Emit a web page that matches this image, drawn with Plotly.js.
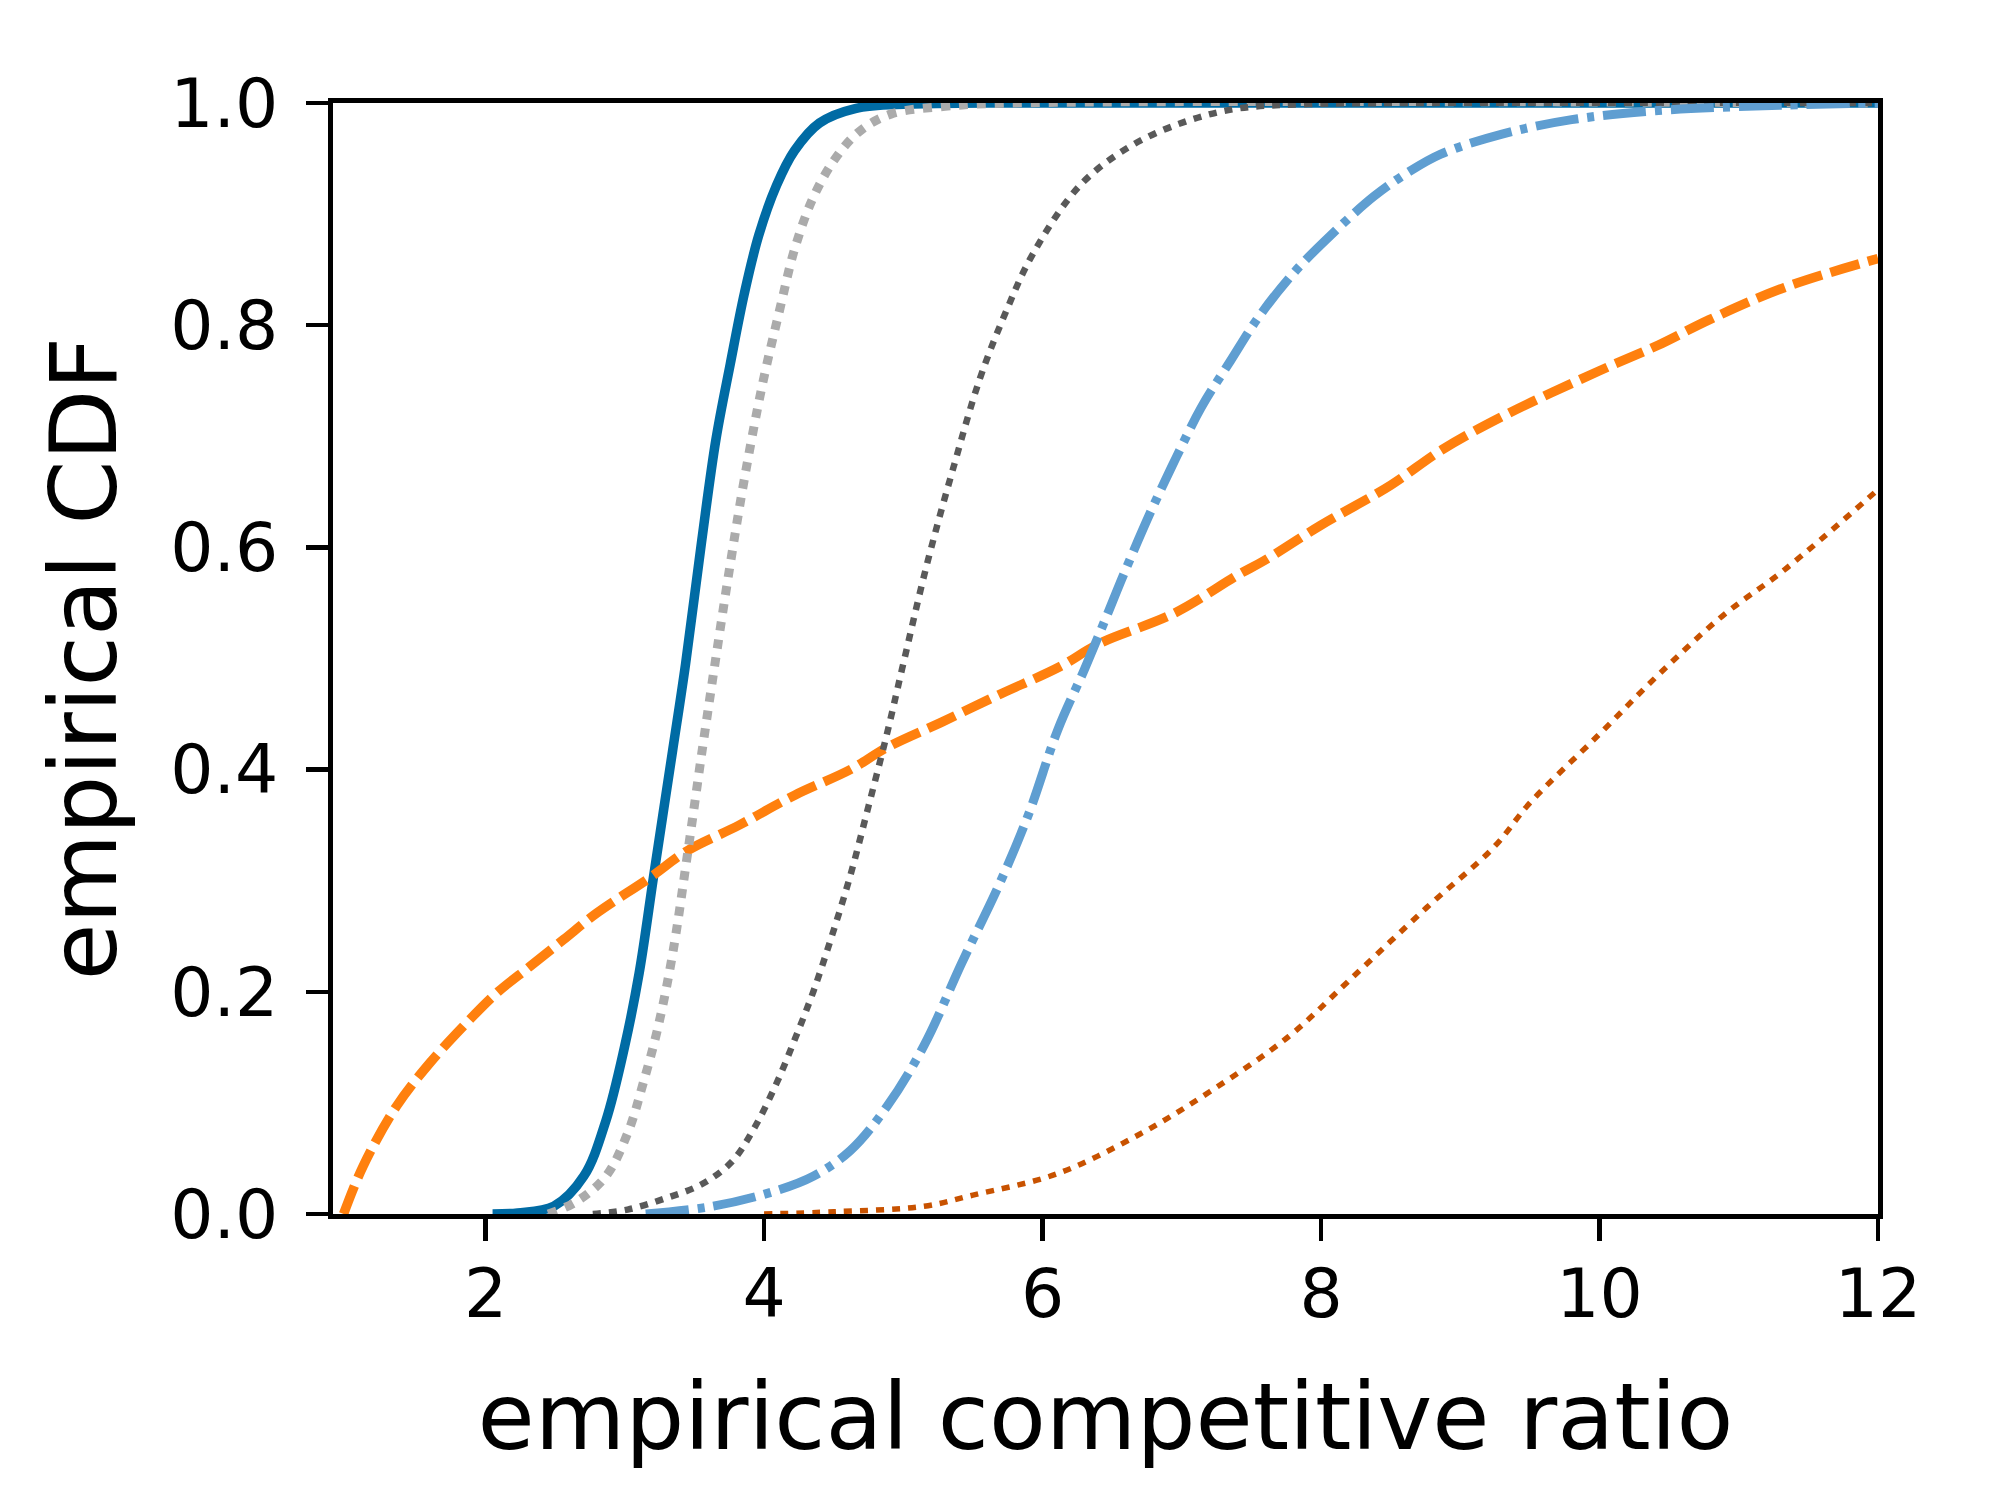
<!DOCTYPE html>
<html>
<head>
<meta charset="utf-8">
<script src="https://cdn.plot.ly/plotly-3.0.1.min.js"></script>
<style>
  html, body { margin: 0; padding: 0; background: #fff; }
  #plot { width: 2000px; height: 1500px; }
</style>
</head>
<body>
<div id="plot"></div>
<script>
// Empirical CDFs (x = competitive ratio, y = CDF).
const solidBlueX = [2.05, 2.23, 2.49, 2.705, 2.864, 2.997, 3.103, 3.21, 3.343, 3.436, 3.551, 3.654, 3.757, 3.859, 3.962, 4.09, 4.218, 4.398, 4.654, 5.04, 5.6, 12];
const solidBlueY = [0, 0.001, 0.007, 0.034, 0.084, 0.15, 0.217, 0.307, 0.417, 0.495, 0.605, 0.697, 0.765, 0.829, 0.881, 0.926, 0.957, 0.982, 0.995, 0.999, 1, 1];

const orangeX = [0.98, 1.12, 1.36, 1.6, 1.84, 2.08, 2.32, 2.56, 2.8, 3.183, 3.449, 3.821, 4.22, 4.619, 4.884, 5.28, 5.68, 6.13, 6.4, 6.95, 7.4, 7.59, 8.0, 8.5, 8.87, 9.32, 10.0, 10.42, 10.79, 11.33, 12];
const orangeY = [0, 0.043, 0.097, 0.136, 0.169, 0.199, 0.223, 0.247, 0.271, 0.303, 0.327, 0.35, 0.377, 0.4, 0.42, 0.443, 0.467, 0.493, 0.513, 0.541, 0.575, 0.588, 0.62, 0.656, 0.688, 0.719, 0.759, 0.782, 0.805, 0.834, 0.86];

const lightGrayX = [2.45, 2.65, 2.864, 3.024, 3.13, 3.236, 3.343, 3.449, 3.555, 3.654, 3.757, 3.859, 3.987, 4.116, 4.218, 4.346, 4.5, 4.68, 4.91, 5.3, 5.8, 12];
const lightGrayY = [0, 0.011, 0.034, 0.074, 0.117, 0.167, 0.234, 0.323, 0.417, 0.501, 0.585, 0.662, 0.746, 0.816, 0.868, 0.913, 0.948, 0.974, 0.99, 0.997, 1, 1];

const darkGrayX = [2.77, 3.02, 3.29, 3.555, 3.768, 3.928, 4.087, 4.22, 4.353, 4.486, 4.62, 4.75, 4.884, 4.99, 5.17, 5.36, 5.55, 5.73, 5.93, 6.27, 6.63, 7.02, 7.4, 7.91, 8.6, 12];
const darkGrayY = [0, 0.004, 0.014, 0.027, 0.047, 0.077, 0.117, 0.157, 0.2, 0.25, 0.305, 0.367, 0.433, 0.49, 0.585, 0.672, 0.752, 0.81, 0.864, 0.926, 0.961, 0.983, 0.995, 0.999, 1, 1];

const lightBlueX = [3.15, 3.634, 4.087, 4.353, 4.619, 4.884, 5.15, 5.42, 5.69, 5.9, 6.11, 6.3, 6.45, 6.58, 6.78, 6.96, 7.14, 7.35, 7.55, 7.81, 8.07, 8.38, 8.63, 8.86, 9.3, 9.8, 10.4, 11.3, 12];
const lightBlueY = [0, 0.007, 0.021, 0.034, 0.057, 0.097, 0.152, 0.226, 0.297, 0.36, 0.436, 0.49, 0.535, 0.575, 0.633, 0.681, 0.726, 0.768, 0.807, 0.848, 0.881, 0.916, 0.938, 0.954, 0.972, 0.985, 0.993, 0.998, 1];

const darkOrangeX = [4.0, 4.5, 5.15, 5.5, 6.1, 6.7, 7.2, 7.77, 8.2, 8.76, 9.24, 9.5, 10.0, 10.42, 10.88, 11.33, 12];
const darkOrangeY = [0, 0.002, 0.007, 0.017, 0.036, 0.072, 0.11, 0.16, 0.21, 0.276, 0.33, 0.37, 0.432, 0.485, 0.538, 0.58, 0.652];

const xTicks = [2, 4, 6, 8, 10, 12];
const yTicks = [0, 0.2, 0.4, 0.6, 0.8, 1.0];
const yTickText = ['0.0', '0.2', '0.4', '0.6', '0.8', '1.0'];

const fontFamily = 'DejaVu Sans, sans-serif';

function curve(x, y, color, width, dash) {
    return {
        x,
        y,
        type: 'scatter',
        mode: 'lines',
        line: { color, width, dash, shape: 'spline', smoothing: 1 },
        hoverinfo: 'skip',
    };
}

const data = [
    curve(solidBlueX, solidBlueY, '#006BA4', 9.5, 'solid'),
    curve(orangeX, orangeY, '#FF800E', 9.5, '30px,9px'),
    curve(lightGrayX, lightGrayY, '#ABABAB', 9, '9px,9px'),
    curve(darkGrayX, darkGrayY, '#595959', 6.5, '8px,8px'),
    curve(lightBlueX, lightBlueY, '#5F9ED1', 9, '43px,9px,7px,9px'),
    curve(darkOrangeX, darkOrangeY, '#C85200', 5.5, '8px,8px'),
];

const axisCommon = {
    showgrid: false,
    zeroline: false,
    showline: true,
    linecolor: 'black',
    linewidth: 5,
    mirror: true,
    ticks: 'outside',
    ticklen: 22,
    tickwidth: 4.5,
    tickcolor: 'black',
    tickfont: { family: fontFamily, size: 68, color: 'black' },
    automargin: false,
};

const layout = {
    width: 2000,
    height: 1500,
    paper_bgcolor: 'white',
    plot_bgcolor: 'white',
    showlegend: false,
    margin: { l: 333, r: 122, t: 103, b: 286 },
    xaxis: {
        ...axisCommon,
        range: [0.904, 12],
        tickvals: xTicks,
        ticktext: xTicks.map(String),
        ticklabelstandoff: -6,
        title: { text: 'empirical competitive ratio', font: { family: fontFamily, size: 93, color: 'black' }, standoff: 54 },
    },
    yaxis: {
        ...axisCommon,
        range: [0, 1],
        tickvals: yTicks,
        ticktext: yTickText,
        ticklabelstandoff: 14,
        title: { text: 'empirical CDF', font: { family: fontFamily, size: 92, color: 'black' }, standoff: 25 },
    },
};

Plotly.newPlot('plot', data, layout, { staticPlot: true });
</script>
</body>
</html>
